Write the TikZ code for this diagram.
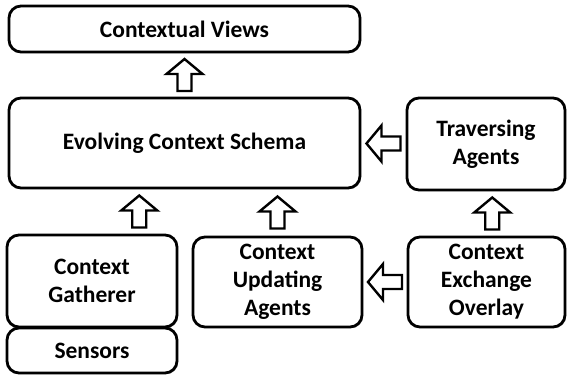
\documentclass[tikz,border=0pt]{standalone}
\usepackage{fontspec}
\setmainfont{Carlito}
\usetikzlibrary{calc,shadows}
\begin{document}
\begin{tikzpicture}[x=1pt,y=-1pt,
  box/.style={draw=black, line width=2.8pt, rounded corners=12pt, fill=white,
    align=center, font=\bfseries\fontsize{23.5}{28}\selectfont, inner sep=0pt,
    drop shadow={shadow xshift=1.2pt, shadow yshift=-1.2pt, opacity=0.25, fill=black}},
  blk/.style={draw=black, line width=2.4pt, fill=white, line join=miter},
  uparrow/.pic={\draw[blk] (0,-16) -- (18,-1) -- (7,-1) -- (7,16) -- (-7,16) -- (-7,-1) -- (-18,-1) -- cycle;},
  leftarrow/.pic={\draw[blk] (-17,0) -- (-2,-18) -- (-2,-7) -- (17,-7) -- (17,7) -- (-2,7) -- (-2,18) -- cycle;}
]
\useasboundingbox (0,0) rectangle (568,378);
\node[box, minimum width=351pt, minimum height=46pt] (views) at (184.5,29) {Contextual Views};
\node[box, minimum width=351pt, minimum height=90pt] (schema) at (184.5,143) {Evolving Context Schema};
\node[box, minimum width=158pt, minimum height=92pt] (trav) at (486,144) {Traversing\\Agents};
\node[box, minimum width=170pt, minimum height=92pt] (gath) at (92,281) {Context\\Gatherer};
\node[box, minimum width=170pt, minimum height=45pt] (sens) at (92,350.5) {Sensors};
\node[box, minimum width=169pt, minimum height=90pt] (upd) at (277.5,282) {Context\\Updating\\Agents};
\node[box, minimum width=157pt, minimum height=90pt] (exch) at (486.5,282) {Context\\Exchange\\Overlay};

\coordinate (a1) at ($(schema.north)!0.5!(views.south)$);
\coordinate (a2) at ($(trav.west)!0.5!(schema.east)$);
\coordinate (a3) at ($(trav.south)!0.5!(exch.north)+(6,0)$);
\coordinate (a4) at ($(gath.north)!0.5!(schema.south)+(1,0)$);
\coordinate (a5) at ($(upd.north)!0.5!(upd.north |- schema.south)$);
\coordinate (a6) at ($(exch.west)!0.5!(upd.east)$);
\pic at (a1) {uparrow};
\pic at (a2) {leftarrow};
\pic at (a3) {uparrow};
\pic at (a4) {uparrow};
\pic at (a5) {uparrow};
\pic at (a6) {leftarrow};
\end{tikzpicture}
\end{document}
